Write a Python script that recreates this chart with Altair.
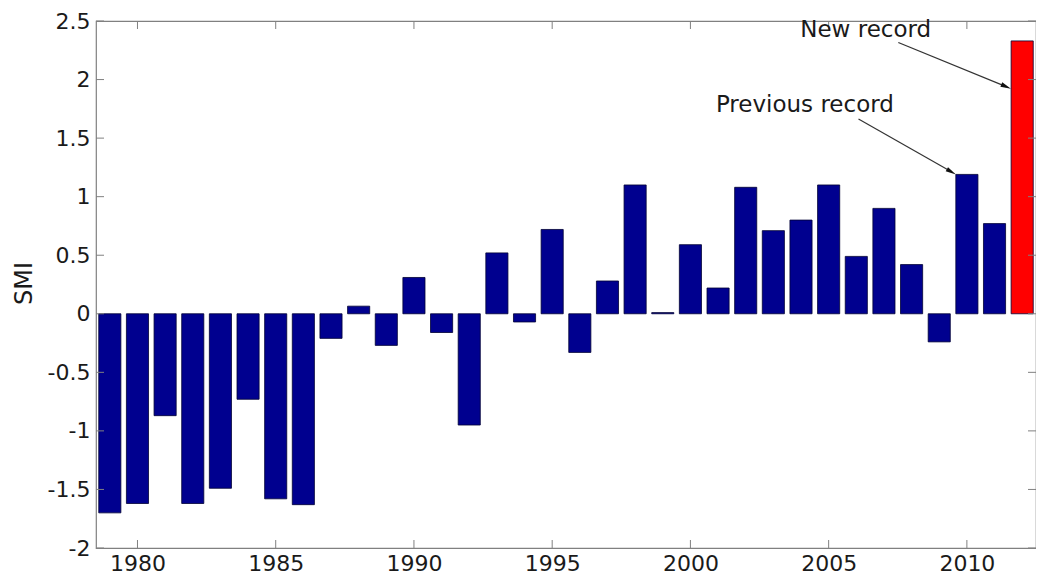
import altair as alt
import pandas as pd

# ---- data ----
years = list(range(1979, 2013))
smi = [-1.70, -1.62, -0.87, -1.62, -1.49, -0.73, -1.58, -1.63, -0.21, 0.065,
       -0.27, 0.31, -0.16, -0.95, 0.52, -0.07, 0.72, -0.33, 0.28, 1.10,
       0.01, 0.59, 0.22, 1.08, 0.71, 0.80, 1.10, 0.49, 0.90, 0.42,
       -0.24, 1.19, 0.77, 2.33]
kind = ["normal"] * 33 + ["new"]

x_ticks = [1980, 1985, 1990, 1995, 2000, 2005, 2010]
y_ticks = [-2, -1.5, -1, -0.5, 0, 0.5, 1, 1.5, 2, 2.5]

ann_text = ["New record", "Previous record"]
ann_x = [2006.34, 2004.14]
ann_y = [2.42, 1.78]

arr_x1 = [2007.52, 2006.08]
arr_y1 = [2.316, 1.664]
arr_x2 = [2011.42, 2009.44]
arr_y2 = [1.94, 1.212]
arr_angle = [113, 120]

FONT = "DejaVu Sans"
TXT = "#1a1a1a"
FRAME = "#808080"
W, H = 940, 527

bars_df = pd.DataFrame({"year": years, "smi": smi, "kind": kind})
xt_df = pd.DataFrame({"t": x_ticks})
yt_df = pd.DataFrame({"v": y_ticks})
ann_df = pd.DataFrame({"label": ann_text, "x": ann_x, "y": ann_y})
arr_df = pd.DataFrame({"x1": arr_x1, "y1": arr_y1, "x2": arr_x2, "y2": arr_y2, "ang": arr_angle})

xscale = alt.Scale(domain=[1978.5, 2012.5], nice=False, zero=False)
yscale = alt.Scale(domain=[-2, 2.5], nice=False)

xaxis = alt.Axis(values=x_ticks, format="d", title=None, ticks=False, domain=False,
                 grid=False, labelFont=FONT, labelFontSize=22, labelColor=TXT,
                 labelPadding=5)
yaxis = alt.Axis(values=y_ticks, labelExpr="'' + datum.value", title="SMI",
                 ticks=False, domain=False, grid=False, labelFont=FONT,
                 labelFontSize=22, labelColor=TXT, labelPadding=6,
                 titleFont=FONT, titleFontSize=24, titleFontWeight="normal",
                 titleColor=TXT, titleX=-72, titleY=262, titleAngle=270,
                 titleAlign="center", titleBaseline="middle")


def X(field):
    return alt.X(field, scale=xscale, axis=xaxis)


def Y(field):
    return alt.Y(field, scale=yscale, axis=yaxis)


bars = alt.Chart(bars_df).transform_calculate(
    x0="datum.year - 0.4", x1="datum.year + 0.4"
).mark_bar(stroke="#000033", strokeWidth=0.8).encode(
    x=X("x0:Q"),
    x2="x1:Q",
    y=Y("smi:Q"),
    y2=alt.datum(0),
    color=alt.Color("kind:N", scale=alt.Scale(domain=["normal", "new"],
                                              range=["#00008f", "#ff0000"]), legend=None),
)

tick_style = dict(color=FRAME, strokeWidth=1)
xt_bottom = alt.Chart(xt_df).mark_rule(**tick_style).encode(
    x=X("t:Q"), y=alt.value(H), y2=alt.value(H - 8))
xt_top = alt.Chart(xt_df).mark_rule(**tick_style).encode(
    x=X("t:Q"), y=alt.value(0), y2=alt.value(8))
yt_left = alt.Chart(yt_df).mark_rule(**tick_style).encode(
    y=Y("v:Q"), x=alt.value(0), x2=alt.value(8))
yt_right = alt.Chart(yt_df).mark_rule(**tick_style).encode(
    y=Y("v:Q"), x=alt.value(W), x2=alt.value(W - 8))

labels = alt.Chart(ann_df).mark_text(font=FONT, fontSize=23, color=TXT,
                                     align="center", baseline="middle").encode(
    x=X("x:Q"), y=Y("y:Q"), text="label:N")

arrow_lines = alt.Chart(arr_df).mark_rule(color="#333333", strokeWidth=1.2).encode(
    x=X("x1:Q"), y=Y("y1:Q"), x2="x2:Q", y2="y2:Q")

arrow_heads = alt.Chart(arr_df).mark_point(
    shape="M0,-1L0.45,1L-0.45,1Z", filled=True, color="#111111", size=110, opacity=1
).encode(
    x=X("x2:Q"), y=Y("y2:Q"),
    angle=alt.Angle("ang:Q", scale=None))

chart = alt.layer(
    bars, xt_bottom, xt_top, yt_left, yt_right, arrow_lines, arrow_heads, labels
).properties(
    width=W, height=H,
    autosize=alt.AutoSizeParams(type="none"),
    padding={"left": 88, "top": 13, "right": 0, "bottom": 30},
    background="white",
).configure_view(stroke=FRAME, strokeWidth=1.2)

chart.save("out.html", embed_options={"renderer": "svg", "actions": False})
